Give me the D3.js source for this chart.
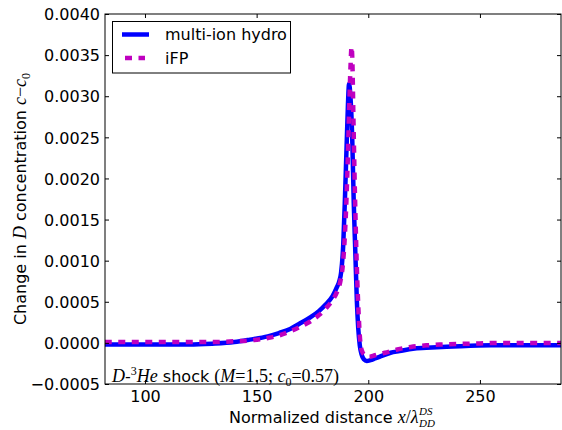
<!DOCTYPE html>
<html><head><meta charset="utf-8">
<script src="https://cdn.jsdelivr.net/npm/d3@7"></script>
<style>body{margin:0;background:#fff}svg{display:block}</style>
</head><body>
<script>
// ---- data ----
const hydroX = [82, 100, 120, 130, 140, 147, 155, 160, 165, 169, 174, 178, 181, 184, 186, 187, 187.8, 188.8, 189.6, 190.3, 190.9, 191.4, 192, 192.8, 193.5, 194.2, 194.9, 195.5, 196.2, 197, 198, 199.3, 201, 203, 205, 210, 214, 220, 226, 233, 241, 255, 270, 287];
const hydroY = [-0.00002, -0.00002, -0.00002, -0.00001, 0.00001, 0.00004, 0.00008, 0.00012, 0.00017, 0.00023, 0.00031, 0.00039, 0.00047, 0.00057, 0.00068, 0.00075, 0.00085, 0.0012, 0.0018, 0.0024, 0.0029, 0.00315, 0.0030, 0.0025, 0.0017, 0.0011, 0.0005, 0.00018, -0.00003, -0.00014, -0.0002, -0.00022, -0.00021, -0.00019, -0.00017, -0.00012, -0.0001, -0.00007, -0.00006, -0.00005, -0.00004, -0.00003, -0.00003, -0.00003];
const ifpX = [82, 100, 120, 130, 140, 147, 155, 160, 165, 169, 174, 178, 181, 184, 186, 187.5, 188.5, 189.5, 190.3, 191, 191.6, 192.1, 192.5, 192.9, 193.3, 193.8, 194.3, 194.9, 195.6, 196.3, 197.2, 198.5, 200.5, 203, 207.5, 213, 219, 226, 232, 245, 260, 287];
const ifpY = [0.00001, 0.00001, 0.00001, 0.00001, 0.00002, 0.00003, 0.00006, 0.00009, 0.00014, 0.00019, 0.00026, 0.00034, 0.00042, 0.00052, 0.00062, 0.00075, 0.00092, 0.0013, 0.0018, 0.0024, 0.0030, 0.0034, 0.0036, 0.0034, 0.0028, 0.0021, 0.0015, 0.0009, 0.0004, 0.00005, -0.0001, -0.00015, -0.00017, -0.00015, -0.00012, -0.00008, -0.00005, -0.00003, -0.00002, -0.00001, 0, 0];
const xTicks = [100, 150, 200, 250];
const yTicks = [-0.0005, 0, 0.0005, 0.001, 0.0015, 0.002, 0.0025, 0.003, 0.0035, 0.004];
const seriesNames = ["multi-ion hydro", "iFP"];

// ---- layout ----
const W = 562, H = 430;
const L = 105, R = 561, T = 14, B = 384;
const font = "'DejaVu Sans', sans-serif";
const mathFont = "'Liberation Serif', 'DejaVu Serif', serif";
const FS = 16, MFS = 18;

const svg = d3.select("body").append("svg").attr("width", W).attr("height", H);
const x = d3.scaleLinear().domain([82.1, 286.3]).range([L, R]);
const y = d3.scaleLinear().domain([-0.0005, 0.004]).range([B, T]);

svg.append("clipPath").attr("id", "clip").append("rect")
  .attr("x", L).attr("y", T).attr("width", R - L).attr("height", B - T);

const line = d3.line().x(d => x(d[0])).y(d => y(d[1])).curve(d3.curveMonotoneX);
const hydro = hydroX.map((v, i) => [v, hydroY[i]]);
const ifp = ifpX.map((v, i) => [v, ifpY[i]]);

const g = svg.append("g").attr("clip-path", "url(#clip)");
g.append("path").attr("d", line(hydro)).attr("fill", "none")
  .attr("stroke", "#0000ff").attr("stroke-width", 4.5).attr("stroke-linejoin", "round");
g.append("path").attr("d", line(ifp)).attr("fill", "none")
  .attr("stroke", "#bf00bf").attr("stroke-width", 4.5).attr("stroke-dasharray", "7,6.5");

// axes with inward ticks
const fmt = d3.format(".4f");
const axB = svg.append("g").attr("transform", `translate(0,${B})`)
  .call(d3.axisBottom(x).tickValues(xTicks).tickSizeInner(-4).tickSizeOuter(0).tickPadding(7));
const axT = svg.append("g").attr("transform", `translate(0,${T})`)
  .call(d3.axisTop(x).tickValues(xTicks).tickSizeInner(-4).tickSizeOuter(0).tickFormat(""));
const axL = svg.append("g").attr("transform", `translate(${L},0)`)
  .call(d3.axisLeft(y).tickValues(yTicks).tickSizeInner(-4).tickSizeOuter(0).tickPadding(5).tickFormat(fmt));
const axR = svg.append("g").attr("transform", `translate(${R},0)`)
  .call(d3.axisRight(y).tickValues(yTicks).tickSizeInner(-4).tickSizeOuter(0).tickFormat(""));
[axB, axT, axL, axR].forEach(a => {
  a.select(".domain").remove();
  a.selectAll(".tick line").attr("stroke", "#000");
  a.selectAll("text").attr("font-family", font).attr("font-size", FS).attr("fill", "#000");
});
axL.selectAll("text").attr("dy", "0.36em");

// frame
svg.append("rect").attr("x", L).attr("y", T).attr("width", R - L).attr("height", B - T)
  .attr("fill", "none").attr("stroke", "#000").attr("stroke-width", 1);

// x label (separate pieces so the scripts do not inflate the box)
const xlBase = 423;
const xl = svg.append("text").attr("x", 229).attr("y", xlBase)
  .attr("font-family", font).attr("font-size", FS).attr("fill", "#000");
xl.append("tspan").text("Normalized distance ");
xl.append("tspan").attr("font-family", mathFont).attr("font-style", "italic").attr("font-size", MFS).text("x");
xl.append("tspan").attr("font-family", mathFont).attr("font-size", MFS).text("/");
xl.append("tspan").attr("font-family", mathFont).attr("font-style", "italic").attr("font-size", MFS).text("λ");
const xlEnd = 229 + xl.node().getComputedTextLength();
svg.append("text").attr("x", xlEnd + 0.5).attr("y", xlBase - 8)
  .attr("font-family", mathFont).attr("font-style", "italic").attr("font-size", 11).attr("fill", "#000").text("DS");
svg.append("text").attr("x", xlEnd + 0.5).attr("y", xlBase + 4)
  .attr("font-family", mathFont).attr("font-style", "italic").attr("font-size", 11).attr("fill", "#000").text("DD");

// y label
const yl = svg.append("text").attr("transform", `translate(26,${(T + B) / 2}) rotate(-90)`)
  .attr("text-anchor", "middle").attr("font-family", font).attr("font-size", FS).attr("fill", "#000");
yl.append("tspan").text("Change in ");
yl.append("tspan").attr("font-family", mathFont).attr("font-style", "italic").attr("font-size", MFS).text("D");
yl.append("tspan").text(" concentration ");
yl.append("tspan").attr("font-family", mathFont).attr("font-style", "italic").attr("font-size", MFS).text("c");
yl.append("tspan").attr("font-family", mathFont).attr("font-size", MFS).text("−");
yl.append("tspan").attr("font-family", mathFont).attr("font-style", "italic").attr("font-size", MFS).text("c");
yl.append("tspan").attr("font-family", mathFont).attr("font-size", 12).attr("dy", 4).text("0");

// annotation
const an = svg.append("text").attr("x", 112).attr("y", 382)
  .attr("font-family", font).attr("font-size", FS).attr("fill", "#000");
an.append("tspan").attr("font-family", mathFont).attr("font-style", "italic").attr("font-size", MFS).text("D");
an.append("tspan").text("-");
an.append("tspan").attr("font-family", mathFont).attr("font-size", 12).attr("dy", -7).text("3");
an.append("tspan").attr("font-family", mathFont).attr("font-style", "italic").attr("font-size", MFS).attr("dy", 7).text("He");
an.append("tspan").text(" shock ");
an.append("tspan").attr("font-family", mathFont).attr("font-size", MFS).text("(");
an.append("tspan").attr("font-family", mathFont).attr("font-style", "italic").attr("font-size", MFS).text("M");
an.append("tspan").attr("font-family", mathFont).attr("font-size", MFS).text("=1.5; ");
an.append("tspan").attr("font-family", mathFont).attr("font-style", "italic").attr("font-size", MFS).text("c");
an.append("tspan").attr("font-family", mathFont).attr("font-size", 12).attr("dy", 4).text("0");
an.append("tspan").attr("font-family", mathFont).attr("font-size", MFS).attr("dy", -4).text("=0.57)");

// legend
const lg = svg.append("g");
lg.append("rect").attr("x", 112.5).attr("y", 21.5).attr("width", 178).attr("height", 51.5)
  .attr("fill", "#fff").attr("stroke", "#000").attr("stroke-width", 1);
const legStyles = [{c: "#0000ff", d: null}, {c: "#bf00bf", d: "7,6.5"}];
seriesNames.forEach((n, i) => {
  const yy = 34.5 + i * 23.5;
  const ln = lg.append("line").attr("x1", 122).attr("x2", 149).attr("y1", yy).attr("y2", yy)
    .attr("stroke", legStyles[i].c).attr("stroke-width", 4.5);
  if (legStyles[i].d) ln.attr("stroke-dasharray", legStyles[i].d).attr("x1", 125).attr("x2", 145);
  lg.append("text").attr("x", 165).attr("y", yy + 5.5).attr("font-family", font).attr("font-size", FS)
    .attr("fill", "#000").text(n);
});
</script>
</body></html>
